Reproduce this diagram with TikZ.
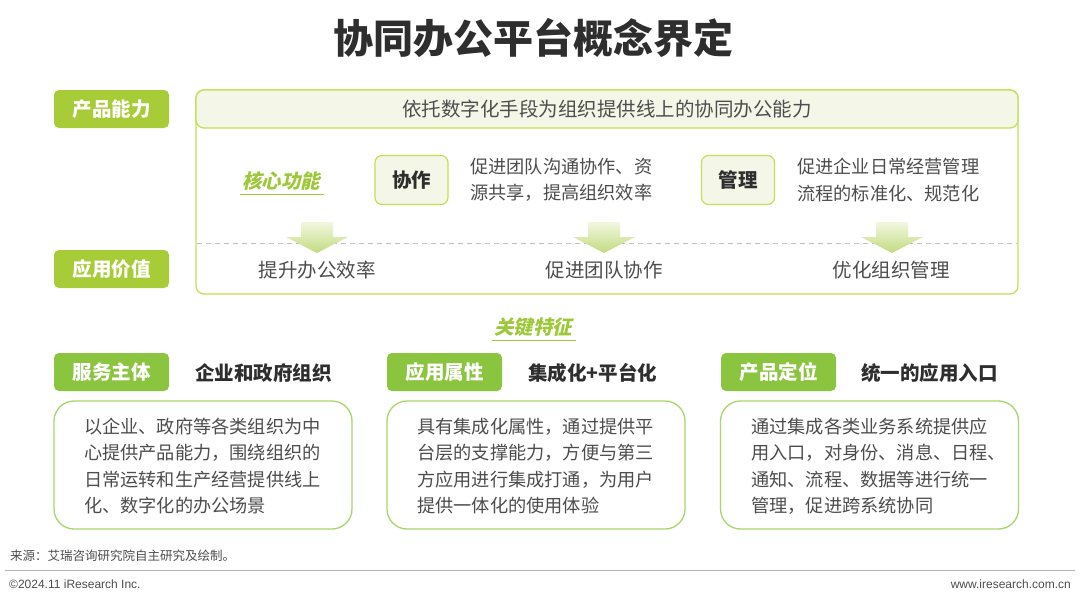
\documentclass[tikz,border=0pt]{standalone}
\usepackage{fontspec}
\setmainfont{Noto Sans CJK SC}
\newfontfamily\cjksl[FakeSlant=0.22]{Noto Sans CJK SC}
\newfontfamily\latinf{Liberation Sans}
\definecolor{lime}{HTML}{A8CC38}
\definecolor{limeline}{HTML}{C4DF55}
\definecolor{tagg}{HTML}{8BC540}
\definecolor{boxg}{HTML}{A9D46E}
\definecolor{palebg}{HTML}{F4F7E8}
\definecolor{txt}{HTML}{4D4D4D}
\definecolor{dtxt}{HTML}{2E2E2E}
\definecolor{ital}{HTML}{9CC83A}
\definecolor{arrtop}{HTML}{F2F7E0}
\definecolor{arrbot}{HTML}{C2DB80}
\newcommand{\fsz}[2]{\fontsize{#1pt}{#2pt}\selectfont}
\tikzset{
  toptag/.style={fill=lime, rounded corners=5pt, minimum width=115pt, minimum height=38pt, inner sep=0pt, text=white, font=\fsz{19.5}{24}\bfseries},
  bottag/.style={fill=tagg, rounded corners=5pt, minimum width=115pt, minimum height=38pt, inner sep=0pt, text=white, font=\fsz{19.5}{24}\bfseries},
  keybox/.style={fill=palebg, draw=limeline, line width=1.2pt, rounded corners=7pt, minimum width=73pt, minimum height=49pt, inner sep=0pt, text=dtxt, font=\fsz{19.5}{24}\bfseries},
  desc/.style={text=txt, font=\fsz{18.2}{26.5}, align=left, inner sep=0pt, anchor=west},
  valtext/.style={text=txt, font=\fsz{19.5}{24}, inner sep=0pt},
  headtxt/.style={text=dtxt, font=\fsz{19.5}{24}\bfseries, inner sep=0pt, anchor=west},
  ittxt/.style={text=ital, font=\cjksl\fsz{19.5}{24}\bfseries, inner sep=0pt},
  contbox/.style={draw=boxg, line width=1.3pt, rounded corners=20pt, minimum width=298pt, minimum height=128pt, inner sep=0pt},
  foot/.style={text=txt, inner sep=0pt},
  bigarrow/.style={top color=arrtop, bottom color=arrbot, draw=none}
}
\begin{document}
\begin{tikzpicture}[x=1pt,y=-1pt]
\useasboundingbox (0,0) rectangle (1080,598);
\fill[white] (0,0) rectangle (1080,598);
% title
\node[text=dtxt, font=\fsz{40}{44}\bfseries, inner sep=0pt] (title) at (533,38) {协同办公平台概念界定};
% left tags
\node[toptag] (cap) at (111.5,109) {产品能力};
\node[toptag] (val) at (111.5,269) {应用价值};
% big box
\draw[limeline, line width=1.3pt, rounded corners=8pt] (196,90) rectangle (1018,294);
\draw[limeline, fill=palebg, line width=1.3pt, rounded corners=8pt] (196,90) rectangle (1018,128);
\node[text=txt, font=\fsz{19.5}{24}, inner sep=0pt] (head) at (607,109) {依托数字化手段为组织提供线上的协同办公能力};
% core function
\node[ittxt] (core) at (281,181) {核心功能};
\draw[ital, line width=1pt] (core.south west) ++(-2,4) -- ++(84,0);
\node[keybox] (xz) at (411.5,180) {协作};
\node[desc] (xzd) at (470,180) {促进团队沟通协作、资\\源共享，提高组织效率};
\node[keybox] (gl) at (738,180) {管理};
\node[desc] (gld) at (797,180) {促进企业日常经营管理\\流程的标准化、规范化};
% dashed line
\draw[gray!50, line width=0.8pt, dash pattern=on 5pt off 4pt] (197,243) -- (1017,243);
% arrows
\foreach \cx in {317,604,892}{
  \shade[bigarrow] (\cx-16,222) -- (\cx+16,222) -- (\cx+16,237) -- (\cx+31,237) -- (\cx,253) -- (\cx-31,237) -- (\cx-16,237) -- cycle;
}
% values
\node[valtext] (v1) at (317,270) {提升办公效率};
\node[valtext] (v2) at (604,270) {促进团队协作};
\node[valtext] (v3) at (891,270) {优化组织管理};
% key features
\node[ittxt] (kf) at (533,327) {关键特征};
\draw[ital, line width=1pt] (kf.south west) ++(-2,4) -- ++(84,0);
% columns
\node[bottag] (t1) at (111.5,372) {服务主体};
\node[headtxt] (h1) at (195,373) {企业和政府组织};
\node[bottag] (t2) at (444.5,372) {应用属性};
\node[headtxt] (h2) at (528,373) {集成化+平台化};
\node[bottag] (t3) at (778.5,372) {产品定位};
\node[headtxt] (h3) at (861,373) {统一的应用入口};
\node[contbox] (b1) at (203,465) {};
\node[contbox] (b2) at (536,465) {};
\node[contbox] (b3) at (869.5,465) {};
\node[desc] (d1) at (84,466) {以企业、政府等各类组织为中\\心提供产品能力，围绕组织的\\日常运转和生产经营提供线上\\化、数字化的办公场景};
\node[desc] (d2) at (417,466) {具有集成化属性，通过提供平\\台层的支撑能力，方便与第三\\方应用进行集成打通，为用户\\提供一体化的使用体验};
\node[desc] (d3) at (751,466) {通过集成各类业务系统提供应\\用入口，对身份、消息、日程、\\通知、流程、数据等进行统一\\管理，促进跨系统协同};
% footer
\node[foot, font=\fsz{12.5}{14}, anchor=west] (src) at (10,556) {来源：艾瑞咨询研究院自主研究及绘制。};
\draw[gray!60, line width=0.8pt] (5,570) -- (1075,570);
\node[foot, font=\latinf\fsz{12}{14}, anchor=west] (copy) at (9,584) {©2024.11 iResearch Inc.};
\node[foot, font=\latinf\fsz{12}{14}, anchor=east] (web) at (1071,584) {www.iresearch.com.cn};
\end{tikzpicture}
\end{document}
